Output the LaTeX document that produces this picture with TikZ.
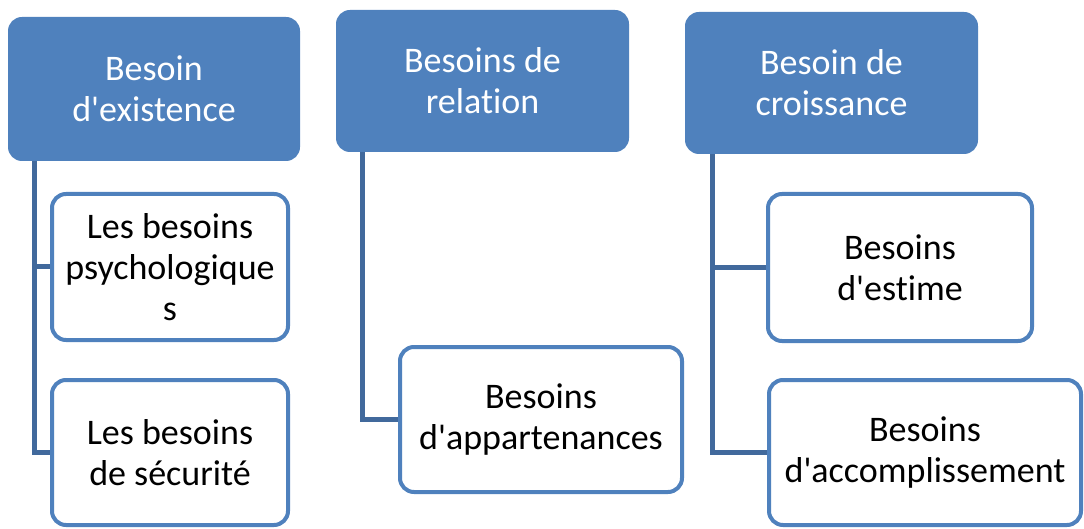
\documentclass[tikz,border=0pt]{standalone}
\usepackage{fontspec}
\setmainfont{Carlito}[Ligatures={TeXOff,NoCommon}]
\definecolor{accent}{HTML}{4F81BD}
\definecolor{linkblue}{HTML}{41699C}

\begin{document}
\begin{tikzpicture}[x=1pt,y=-1pt,
		header/.style={fill=accent,rounded corners=14pt,text=white,align=center,inner sep=0pt,font=\fontsize{36}{41}\selectfont},
		child/.style={draw=accent,line width=4pt,fill=white,rounded corners=14pt,align=center,inner sep=0pt,font=\fontsize{36}{41}\selectfont},
		link/.style={draw=linkblue,line width=5pt}]
		\useasboundingbox (0,0) rectangle (1084,529);
		\clip (0,0) rectangle (1084,529);
		
		\node (exist) [header,minimum width=292pt,minimum height=144pt] at (154,89) {Besoin\\d'existence};
		\node (relat) [header,minimum width=293pt,minimum height=142pt] at (482.5,81) {Besoins de\\relation};
		\node (crois) [header,minimum width=293pt,minimum height=142pt] at (831.5,83) {Besoin de\\croissance};
		
		\draw[link] ([xshift=27pt]exist.south west)|-(170,452.5);
		\draw[link] ([xshift=27pt]exist.south west)|-(170,267);
		\draw[link] ([xshift=27pt]relat.south west)|-(541,419.5);
		\draw[link] ([xshift=28pt]crois.south west)|-(925,452.5);
		\draw[link] ([xshift=28pt]crois.south west)|-(900,267.5);
		
		\node (psy) [child,minimum width=236pt,minimum height=146pt] at (170,267) {Les besoins\\psychologique\\s};
		\node (secu) [child,minimum width=236pt,minimum height=145pt] at (170,452.5) {Les besoins\\de sécurité};
		\node (appart) [child,minimum width=282pt,minimum height=145pt] at (541,419.5) {Besoins\\d'appartenances};
		\node (estime) [child,minimum width=264pt,minimum height=147pt] at (900,267.5) {Besoins\\d'estime};
		\node (accomp) [child,minimum width=312pt,minimum height=145pt] at (925,452.5) {Besoins\\d'accomplissement};
	\end{tikzpicture}
\end{document}
